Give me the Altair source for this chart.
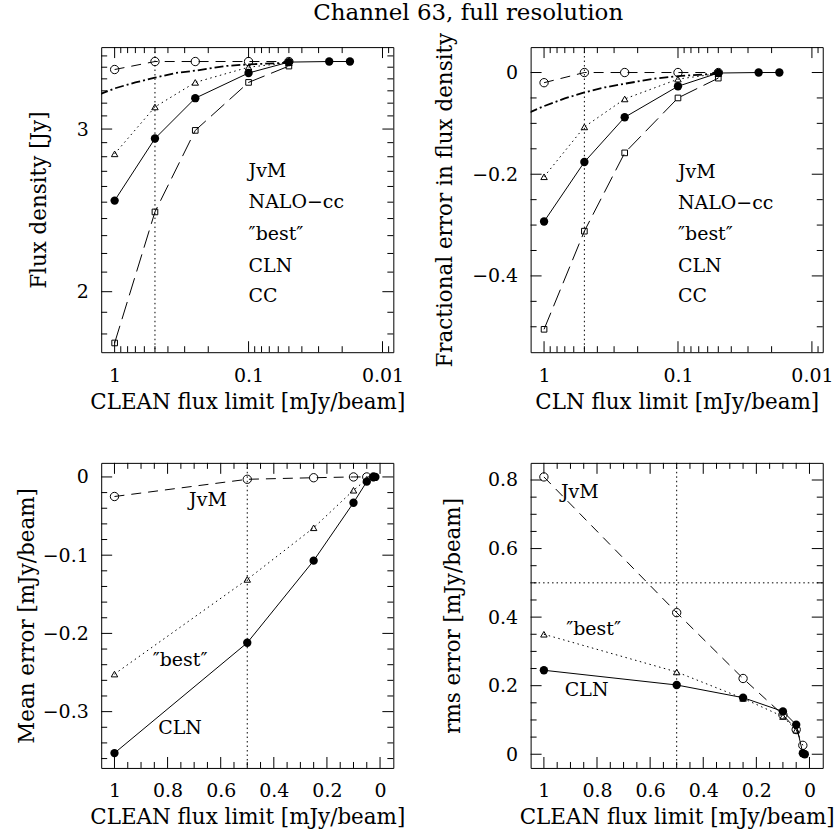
import altair as alt
import pandas as pd

FONT = "DejaVu Serif"
W, H = 293, 306

# ---------------- data ----------------
# abscissae: CLEAN flux limit [mJy/beam]
x5 = [1.0, 0.5, 0.25, 0.1, 0.05]
x6 = [1.0, 0.5, 0.25, 0.1, 0.05, 0.025]
x7 = [1.0, 0.5, 0.25, 0.1, 0.05, 0.025, 0.0175]
x_nalo = [1.3, 1.0, 0.7, 0.5, 0.35, 0.25, 0.15, 0.1, 0.05]

# top-left: flux density [Jy]
flux_jvm = [3.48, 3.55, 3.55, 3.55, 3.55]
flux_best = [2.82, 3.17, 3.37, 3.50, 3.54]
flux_cln = [2.51, 2.93, 3.24, 3.45, 3.545, 3.55, 3.55]
flux_cc = [1.76, 2.44, 2.99, 3.37, 3.51]
flux_nalo = [3.27, 3.32, 3.37, 3.41, 3.45, 3.47, 3.51, 3.525, 3.54]

# top-right: fractional error in flux density
frac_jvm = [-0.02, 0.0, 0.0, 0.0, 0.0]
frac_best = [-0.205, -0.107, -0.052, -0.013, -0.002]
frac_cln = [-0.293, -0.176, -0.088, -0.027, -0.001, 0.0, 0.0]
frac_cc = [-0.505, -0.312, -0.158, -0.050, -0.011]
frac_nalo = [-0.079, -0.066, -0.051, -0.039, -0.029, -0.022, -0.012, -0.007, -0.002]

# bottom-left: mean error [mJy/beam]
mean_jvm = [-0.025, -0.003, -0.001, 0.0, 0.0, 0.0]
mean_best = [-0.252, -0.131, -0.065, -0.017, -0.003]
mean_cln = [-0.353, -0.212, -0.107, -0.033, -0.006, 0.0, 0.0]

# bottom-right: rms error [mJy/beam]
rms_jvm = [0.809, 0.413, 0.221, 0.115, 0.072, 0.026]
rms_best = [0.350, 0.240, 0.163, 0.110, 0.070]
rms_cln = [0.245, 0.202, 0.165, 0.125, 0.086, 0.003, 0.0]

# in-panel labels
labels_top = ["JvM", "NALO\u2212cc", "\u2033best\u2033", "CLN", "CC"]
lab_top_x = [0.1, 0.1, 0.1, 0.1, 0.1]
lab_tl_y = [2.70, 2.50, 2.31, 2.13, 1.98]
lab_tr_y = [-0.195, -0.256, -0.318, -0.380, -0.439]
labels_bot = ["JvM", "\u2033best\u2033", "CLN"]
lab_bl_x = [0.648, 0.753, 0.753]
lab_bl_y = [-0.030, -0.234, -0.321]
lab_br_x = [0.865, 0.813, 0.839]
lab_br_y = [0.764, 0.365, 0.187]

# axis tick values
log_major = [1, 0.1, 0.01]
log_minor = [round(m * 10.0 ** e, 6) for e in (0, -1, -2, -3) for m in range(2, 10)]
log_minor = [v for v in log_minor if 0.0083 < v < 1.26]
tl_ymaj = [2, 3]
tl_ymin = [round(1.8 + 0.1 * i, 2) for i in range(19)]
tl_ymin = [v for v in tl_ymin if v not in (2.0, 3.0)]
tr_ymaj = [0, -0.2, -0.4]
tr_ymin = [round(-0.5 + 0.05 * i, 3) for i in range(11)]
tr_ymin = [v for v in tr_ymin if v not in (0.0, -0.2, -0.4)]
lin_xmaj = [1, 0.8, 0.6, 0.4, 0.2, 0]
lin_xmin = [round(0.05 * i, 3) for i in range(21)]
lin_xmin = [v for v in lin_xmin if v not in (0.0, 0.2, 0.4, 0.6, 0.8, 1.0)]
bl_ymaj = [0, -0.1, -0.2, -0.3]
bl_ymin = [round(-0.36 + 0.02 * i, 3) for i in range(19)]
bl_ymin = [v for v in bl_ymin if v not in (0.0, -0.1, -0.2, -0.3)]
br_ymaj = [0, 0.2, 0.4, 0.6, 0.8]
br_ymin = [round(0.05 * i, 3) for i in range(17)]
br_ymin = [v for v in br_ymin if v not in (0.0, 0.2, 0.4, 0.6, 0.8)]

STY = {
    "JvM": dict(dash=[10, 7], shape="circle", filled=False, size=70),
    "best": dict(dash=[1.5, 3.5], shape="triangle-up", filled=False, size=42),
    "CLN": dict(dash=None, shape="circle", filled=True, size=70),
    "CC": dict(dash=[18, 7], shape="square", filled=False, size=32),
}

TICK_FS = 19
TITLE_FS = 21.5
TEXT_FS = 19


def xaxis(title, values):
    return alt.Axis(
        title=title, values=values, format="~g", ticks=False, tickSize=0,
        domain=False, grid=False, labelFlush=False, labelOverlap=False,
        labelFont=FONT, labelFontSize=TICK_FS, labelColor="black",
        labelBaseline="alphabetic", labelPadding=29,
        titleFont=FONT, titleFontSize=TITLE_FS, titleFontWeight="normal",
        titleColor="black", titleBaseline="alphabetic", titleY=56,
    )


def yaxis(title, values, tx):
    return alt.Axis(
        title=title, values=values, format="~g", ticks=False, tickSize=0,
        domain=False, grid=False, labelOverlap=False,
        labelFont=FONT, labelFontSize=TICK_FS, labelColor="black", labelPadding=13,
        titleFont=FONT, titleFontSize=TITLE_FS, titleFontWeight="normal",
        titleColor="black", titleBaseline="alphabetic", titleX=tx,
    )


def ticks(xenc, yenc, xmaj, xmin, ymaj, ymin, lmaj=11, lmin=6):
    out = []
    for vals, L in ((xmaj, lmaj), (xmin, lmin)):
        b = alt.Chart(pd.DataFrame({"x": vals})).mark_rule(color="black", strokeWidth=1)
        out.append(b.encode(x=xenc, y=alt.value(H - L), y2=alt.value(H)))
        out.append(b.encode(x=xenc, y=alt.value(0), y2=alt.value(L)))
    for vals, L in ((ymaj, lmaj), (ymin, lmin)):
        b = alt.Chart(pd.DataFrame({"y": vals})).mark_rule(color="black", strokeWidth=1)
        out.append(b.encode(y=yenc, x=alt.value(0), x2=alt.value(L)))
        out.append(b.encode(y=yenc, x=alt.value(W - L), x2=alt.value(W)))
    return out


def panel(xenc, yenc, series, texts, align, tk, hline=False, nalo=None):
    layers = []
    guide = dict(color="black", strokeWidth=1, strokeDash=[1.5, 3])
    layers.append(alt.Chart(pd.DataFrame({"x": [0.5]})).mark_rule(**guide).encode(x=xenc))
    if hline:
        layers.append(alt.Chart(pd.DataFrame({"y": [0.5]})).mark_rule(**guide).encode(y=yenc))
    if nalo is not None:
        layers.append(
            alt.Chart(pd.DataFrame({"x": nalo[0], "y": nalo[1]}))
            .mark_line(color="black", strokeWidth=1.8, strokeDash=[9, 3, 2, 3], clip=True)
            .encode(x=xenc, y=yenc)
        )
    for name, (xs, ys) in series:
        st = STY[name]
        df = pd.DataFrame({"x": xs, "y": ys})
        lk = dict(color="black", strokeWidth=1, clip=True)
        if st["dash"]:
            lk["strokeDash"] = st["dash"]
        layers.append(alt.Chart(df).mark_line(**lk).encode(x=xenc, y=yenc))
    for name, (xs, ys) in series:
        st = STY[name]
        df = pd.DataFrame({"x": xs, "y": ys})
        layers.append(
            alt.Chart(df)
            .mark_point(shape=st["shape"], filled=st["filled"], size=st["size"],
                        color="black", opacity=1, strokeWidth=1)
            .encode(x=xenc, y=yenc)
        )
    tdf = pd.DataFrame({"x": texts[0], "y": texts[1], "t": texts[2]})
    layers.append(
        alt.Chart(tdf)
        .mark_text(font=FONT, fontSize=TEXT_FS, align=align, baseline="middle", color="black")
        .encode(x=xenc, y=yenc, text="t:N")
    )
    layers += ticks(xenc, yenc, *tk)
    return alt.layer(*layers).properties(width=W, height=H)


# ---------------- panels ----------------
xlog_a = alt.X("x:Q", scale=alt.Scale(type="log", domain=[0.0083, 1.26], reverse=True),
               axis=xaxis("CLEAN flux limit [mJy/beam]", log_major))
ylog_a = alt.Y("y:Q", scale=alt.Scale(type="log", domain=[1.72, 3.68]),
               axis=yaxis("Flux density [Jy]", tl_ymaj, -56))
pa = panel(xlog_a, ylog_a,
           [("JvM", (x5, flux_jvm)), ("best", (x5, flux_best)),
            ("CLN", (x7, flux_cln)), ("CC", (x5, flux_cc))],
           (lab_top_x, lab_tl_y, labels_top), "left",
           (log_major, log_minor, tl_ymaj, tl_ymin), nalo=(x_nalo, flux_nalo))

xlog_b = alt.X("x:Q", scale=alt.Scale(type="log", domain=[0.0083, 1.26], reverse=True),
               axis=xaxis("CLN flux limit [mJy/beam]", log_major))
ylin_b = alt.Y("y:Q", scale=alt.Scale(domain=[-0.55, 0.05], nice=False, zero=False),
               axis=yaxis("Fractional error in flux density", tr_ymaj, -79))
pb = panel(xlog_b, ylin_b,
           [("JvM", (x5, frac_jvm)), ("best", (x5, frac_best)),
            ("CLN", (x7, frac_cln)), ("CC", (x5, frac_cc))],
           (lab_top_x, lab_tr_y, labels_top), "left",
           (log_major, log_minor, tr_ymaj, tr_ymin), nalo=(x_nalo, frac_nalo))

xlin_c = alt.X("x:Q", scale=alt.Scale(domain=[-0.05, 1.05], nice=False, zero=False, reverse=True),
               axis=xaxis("CLEAN flux limit [mJy/beam]", lin_xmaj))
ylin_c = alt.Y("y:Q", scale=alt.Scale(domain=[-0.372, 0.018], nice=False, zero=False),
               axis=yaxis("Mean error [mJy/beam]", bl_ymaj, -68))
pc = panel(xlin_c, ylin_c,
           [("JvM", (x6, mean_jvm)), ("best", (x5, mean_best)), ("CLN", (x7, mean_cln))],
           (lab_bl_x, lab_bl_y, labels_bot), "center",
           (lin_xmaj, lin_xmin, bl_ymaj, bl_ymin))

xlin_d = alt.X("x:Q", scale=alt.Scale(domain=[-0.05, 1.05], nice=False, zero=False, reverse=True),
               axis=xaxis("CLEAN flux limit [mJy/beam]", lin_xmaj))
ylin_d = alt.Y("y:Q", scale=alt.Scale(domain=[-0.04, 0.85], nice=False, zero=False),
               axis=yaxis("rms error [mJy/beam]", br_ymaj, -71))
pdd = panel(xlin_d, ylin_d,
            [("JvM", (x6, rms_jvm)), ("best", (x5, rms_best)), ("CLN", (x7, rms_cln))],
            (lab_br_x, lab_br_y, labels_bot), "center",
            (lin_xmaj, lin_xmin, br_ymaj, br_ymin), hline=True)

chart = (
    alt.concat(pa, pb, pc, pdd, columns=2,
               spacing={"row": 111, "column": 137.7}, bounds="flush")
    .properties(
        title=alt.TitleParams("Channel 63, full resolution", font=FONT, fontSize=23,
                              fontWeight="normal", color="black", anchor="middle",
                              baseline="alphabetic", offset=-11, dx=43),
        padding={"left": 15.5, "top": 0, "right": 4, "bottom": 4},
        background="white",
    )
    .configure_view(stroke="black", strokeWidth=1)
)

chart.save("out.html", embed_options={"renderer": "svg", "actions": False})
